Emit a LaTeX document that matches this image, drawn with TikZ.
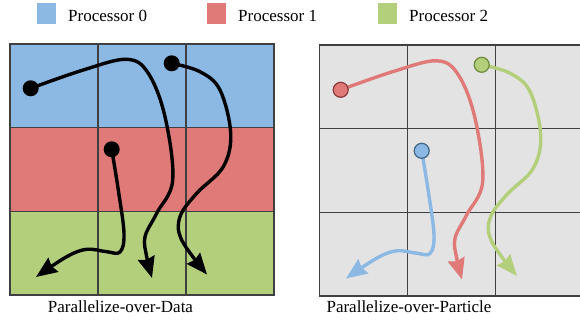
\documentclass[tikz,border=0pt]{standalone}
\usepackage{fontspec}
\setmainfont{Liberation Serif}
\usetikzlibrary{arrows.meta}
\definecolor{pblue}{HTML}{8BB9E4}
\definecolor{pred}{HTML}{DF7A78}
\definecolor{pgreen}{HTML}{B3CF7B}
\definecolor{pgrey}{HTML}{E3E3E3}
\definecolor{gline}{HTML}{404040}
\definecolor{dblue}{HTML}{3F6684}
\definecolor{dred}{HTML}{8A3A3A}
\definecolor{dgreen}{HTML}{6B8A3A}
\tikzset{
  gridline/.style={draw=gline, line width=1.3pt},
  path/.style={line width=3.4pt, line cap=round, -{Stealth[length=21pt,width=17pt,inset=2pt]}},
  bdot/.style={circle, fill=black, inner sep=0pt, minimum size=16pt},
  cdot/.style={circle, line width=1.2pt, inner sep=0pt, minimum size=15pt},
  lbl/.style={font=\fontsize{17}{20}\selectfont},
  legsq/.style={minimum width=19pt, minimum height=21pt, inner sep=0pt, anchor=north west}
}
\begin{document}
\begin{tikzpicture}[x=1pt,y=-1pt]
\useasboundingbox (0,0) rectangle (580,331);
\clip (0,0) rectangle (580,331);
% legend
\node[legsq, fill=pblue] (l0) at (37,3) {};
\node[legsq, fill=pred] (l1) at (207,3) {};
\node[legsq, fill=pgreen] (l2) at (378,3) {};
\node[lbl, anchor=base west, inner sep=0pt] (t0) at (68,21.5) {Processor 0};
\node[lbl, anchor=base west, inner sep=0pt] (t1) at (238,21.5) {Processor 1};
\node[lbl, anchor=base west, inner sep=0pt] (t2) at (409,21.5) {Processor 2};
% left panel
\fill[pblue] (10,44) rectangle (274,127.7);
\fill[pred] (10,127.7) rectangle (274,211.3);
\fill[pgreen] (10,211.3) rectangle (274,295);
\draw[gridline] (10,44) rectangle (274,295);
\draw[gridline] (98,44) -- (98,295) (186,44) -- (186,295);
\draw[gridline] (10,127.7) -- (274,127.7) (10,211.3) -- (274,211.3);
% right panel
\begin{scope}[shift={(310,1.5)}]
\fill[pgrey] (9.5,43.5) rectangle (273.5,294.5);
\draw[gridline] (9.5,43.5) rectangle (273.5,294.5);
\draw[gridline] (97.5,43.5) -- (97.5,294.5) (185.5,43.5) -- (185.5,294.5);
\draw[gridline] (9.5,127.2) -- (273.5,127.2) (9.5,210.8) -- (273.5,210.8);
\end{scope}
% left curves
\coordinate (a1) at (30.7,88.3);
\coordinate (a2) at (171.7,63.3);
\coordinate (a3) at (111.7,149.3);
\coordinate (e1) at (152,278);
\coordinate (e2) at (207,274.5);
\coordinate (e3) at (36,277);
\draw[path] plot[smooth, tension=0.6] coordinates {(a1) (83.3,70) (126.7,59.3) (148.3,73.3) (165,116.7) (172.7,180) (156.7,213.3) (145,236.7) (146.7,256.7) (e1)};
\draw[path] plot[smooth, tension=0.6] coordinates {(a2) (200,71.7) (220,90) (230.7,133.3) (223.3,166.7) (196.7,193.3) (180,216.7) (181.7,240) (e2)};
\draw[path] plot[smooth, tension=0.6] coordinates {(a3) (118.3,190) (124,233.3) (120,252) (106.7,251.7) (86.7,249.3) (66.7,256.7) (e3)};
\node[bdot] (d1) at (a1) {};
\node[bdot] (d2) at (a2) {};
\node[bdot] (d3) at (a3) {};
% right curves
\begin{scope}[shift={(310,1.5)}]
\coordinate (b1) at (30.7,88.3);
\coordinate (b2) at (171.7,63.3);
\coordinate (b3) at (111.7,149.3);
\coordinate (f1) at (152,278);
\coordinate (f2) at (207,274.5);
\coordinate (f3) at (36,277);
\draw[path, pred] plot[smooth, tension=0.6] coordinates {(b1) (83.3,70) (126.7,59.3) (148.3,73.3) (165,116.7) (172.7,180) (156.7,213.3) (145,236.7) (146.7,256.7) (f1)};
\draw[path, pgreen] plot[smooth, tension=0.6] coordinates {(b2) (200,71.7) (220,90) (230.7,133.3) (223.3,166.7) (196.7,193.3) (180,216.7) (181.7,240) (f2)};
\draw[path, pblue] plot[smooth, tension=0.6] coordinates {(b3) (118.3,190) (124,233.3) (120,252) (106.7,251.7) (86.7,249.3) (66.7,256.7) (f3)};
\node[cdot, fill=pred, draw=dred] (c1) at (b1) {};
\node[cdot, fill=pgreen, draw=dgreen] (c2) at (b2) {};
\node[cdot, fill=pblue, draw=dblue] (c3) at (b3) {};
\end{scope}
% captions
\node[lbl, anchor=base, inner sep=0pt] (cap1) at (120.5,312.5) {Parallelize-over-Data};
\node[lbl, anchor=base, inner sep=0pt] (cap2) at (409,312.5) {Parallelize-over-Particle};
\end{tikzpicture}
\end{document}
